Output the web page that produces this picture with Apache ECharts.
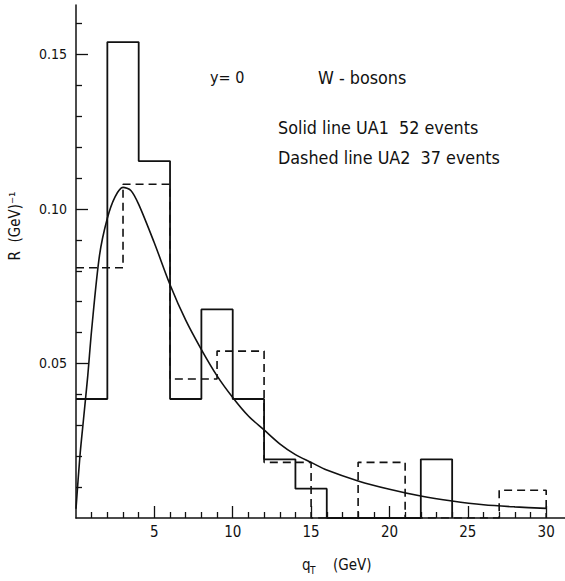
<!DOCTYPE html>
<html>
<head>
<meta charset="utf-8">
<script src="https://cdn.jsdelivr.net/npm/echarts@6/dist/echarts.min.js"></script>
<style>
  html, body { margin: 0; padding: 0; background: #fff; }
  #chart { width: 565px; height: 581px; }
</style>
</head>
<body>
<div id="chart"></div>
<script>
  // UA1 histogram (solid line), 2 GeV bins, R in (GeV)^-1
  var ua1Edges = [0, 2, 4, 6, 8, 10, 12, 14, 16, 18, 20, 22, 24];
  var ua1Values = [0.0385, 0.154, 0.1155, 0.0385, 0.0675, 0.0385, 0.019, 0.0095, 0, 0, 0, 0.019];

  // UA2 histogram (dashed line), 3 GeV bins
  var ua2Edges = [0, 3, 6, 9, 12, 15, 18, 21, 24, 27, 30];
  var ua2Values = [0.081, 0.108, 0.045, 0.054, 0.018, 0, 0.018, 0, 0, 0.009];

  // smooth curve
  var curveX = [0, 0.25, 0.5, 0.75, 1, 1.5, 2, 2.5, 3, 3.5, 4, 5, 6, 7, 8, 9, 10, 11, 12, 13, 14, 15, 16, 18, 20, 22, 24, 26, 28, 30];
  var curveY = [0.003, 0.02, 0.033, 0.046, 0.061, 0.085, 0.097, 0.104, 0.107, 0.106, 0.1015, 0.089, 0.0755, 0.064, 0.0545, 0.046, 0.039, 0.033, 0.0285, 0.024, 0.0205, 0.018, 0.0155, 0.012, 0.0093, 0.0071, 0.0055, 0.0043, 0.0036, 0.0031];

  // ticks
  var xMajorTicks = [5, 10, 15, 20, 25, 30];
  var xMinorTicks = [1, 2, 3, 4, 6, 7, 8, 9, 11, 12, 13, 14, 16, 17, 18, 19, 21, 22, 23, 24, 26, 27, 28, 29];
  var yMajorTicks = [0.05, 0.10, 0.15];
  var yMinorTicks = [0.01, 0.02, 0.03, 0.04, 0.06, 0.07, 0.08, 0.09, 0.11, 0.12, 0.13, 0.14, 0.16];

  var ink = '#111';
  var font = '"DejaVu Sans Condensed", "DejaVu Sans", sans-serif';

  function stepPoints(edges, values) {
    var pts = values.map(function (v, i) { return [edges[i], v]; });
    pts.push([edges[edges.length - 1], 0]);
    return pts;
  }

  var chart = echarts.init(document.getElementById('chart'), null, { renderer: 'svg' });

  function makeX(ticks, len, labels) {
    return {
      type: 'value', min: 0, max: 31.2, position: 'bottom',
      axisLine: { show: !labels, lineStyle: { color: ink, width: 1.5 } },
      axisTick: { show: true, inside: true, length: len, customValues: ticks, lineStyle: { color: ink, width: 1.3 } },
      axisLabel: labels ? { show: true, customValues: ticks, margin: 6, color: ink, fontSize: 15, fontFamily: font } : { show: false },
      splitLine: { show: false },
    };
  }
  function makeY(ticks, len, labels) {
    return {
      type: 'value', min: 0, max: 0.166, position: 'left',
      axisLine: { show: !labels, lineStyle: { color: ink, width: 1.5 } },
      axisTick: { show: true, inside: true, length: len, customValues: ticks, lineStyle: { color: ink, width: 1.3 } },
      axisLabel: labels ? {
        show: true, customValues: ticks, margin: 9, color: ink, fontSize: 14, fontFamily: font,
        formatter: function (v) { return v.toFixed(2); },
      } : { show: false },
      splitLine: { show: false },
    };
  }

  function txt(x, y, text, size) {
    return {
      type: 'text', x: x, y: y,
      style: { text: text, fill: ink, fontSize: size, fontFamily: font, align: 'left', verticalAlign: 'middle' },
    };
  }

  chart.setOption({
    backgroundColor: '#fff',
    animation: false,
    grid: { left: 76, right: 0, top: 5, bottom: 63 },
    xAxis: [makeX(xMinorTicks, 6, false), makeX(xMajorTicks, 12, true)],
    yAxis: [makeY(yMinorTicks, 6, false), makeY(yMajorTicks, 12, true)],
    series: [
      {
        name: 'UA1', type: 'line', step: 'end', symbol: 'none',
        data: stepPoints(ua1Edges, ua1Values),
        lineStyle: { color: ink, width: 1.8 },
      },
      {
        name: 'UA2', type: 'line', step: 'end', symbol: 'none',
        data: stepPoints(ua2Edges, ua2Values),
        lineStyle: { color: ink, width: 1.6, type: [8, 5] },
      },
      {
        name: 'curve', type: 'line', smooth: 0.3, symbol: 'none',
        data: curveX.map(function (x, i) { return [x, curveY[i]]; }),
        lineStyle: { color: ink, width: 1.6 },
      },
    ],
    graphic: [
      txt(210, 77, 'y= 0', 16),
      txt(318, 77, 'W - bosons', 17.8),
      txt(278, 127, 'Solid line UA1  52 events', 17.8),
      txt(278, 157, 'Dashed line UA2  37 events', 17.8),
      txt(302, 565, 'q', 15),
      txt(310, 570, 'T', 10),
      txt(333, 565, '(GeV)', 15),
      {
        type: 'text', x: 15, y: 226, rotation: Math.PI / 2,
        style: { text: 'R  (GeV)\u207B\u00B9', fill: ink, fontSize: 15, fontFamily: font, align: 'center', verticalAlign: 'middle' },
      },
    ],
  });
</script>
</body>
</html>
